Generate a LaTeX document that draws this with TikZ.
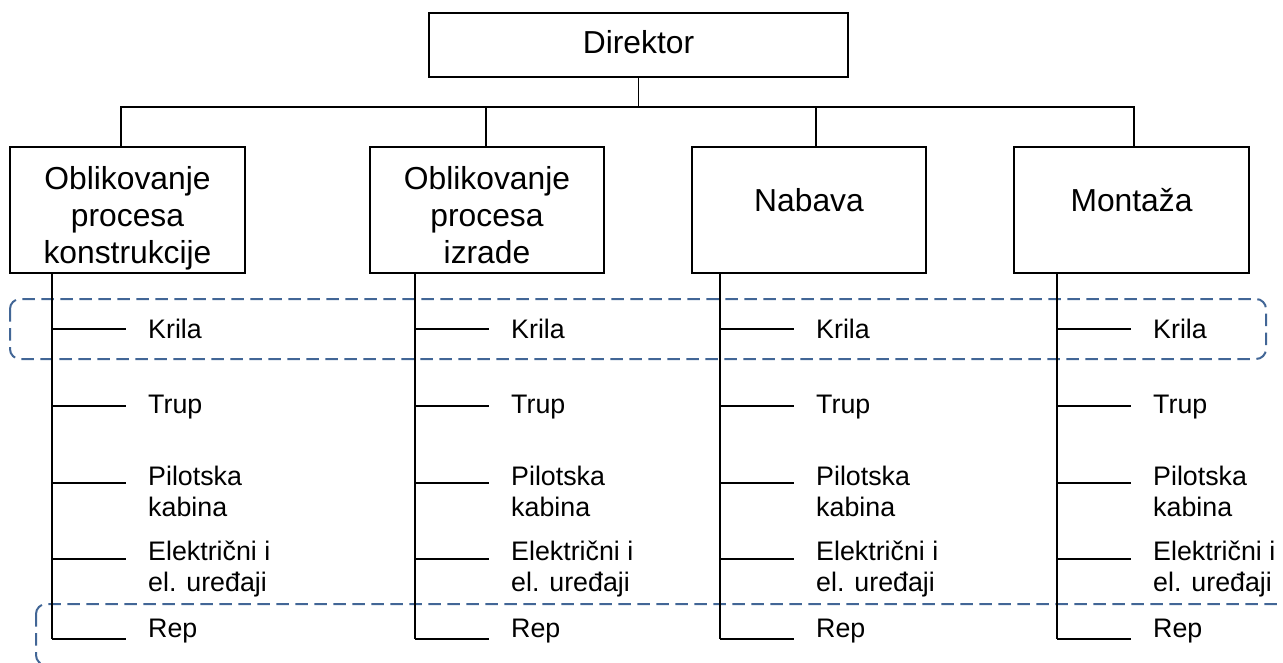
\documentclass[tikz,border=0pt]{standalone}
\usepackage{fontspec}
\setmainfont{Liberation Sans}
\definecolor{dashblue}{RGB}{66,102,150}
\begin{document}
\begin{tikzpicture}[x=1pt,y=-1pt,
  box/.style={draw=black, line width=2.5pt, rectangle, inner sep=0pt, fill=white},
  conn/.style={draw=black, line width=1.8pt},
  group/.style={draw=dashblue, line width=2pt, dash pattern=on 12.5pt off 6.5pt, rounded corners=10pt},
  bigtxt/.style={font=\fontsize{31.8}{37}\selectfont, inner sep=0pt, align=center},
  smalltxt/.style={font=\fontsize{26.8}{31}\selectfont, inner sep=0pt, align=left}]
\useasboundingbox (0,0) rectangle (1283,662);
\clip (0,0) rectangle (1283,662);

% dashed groups
\draw[group] (10,299) rectangle (1266,359);
\draw[group] (36,604) rectangle (1310,665);

% boxes
\node[box, minimum width=419pt, minimum height=64pt] (dir) at (638.5,45) {};
\node[box, minimum width=235pt, minimum height=126pt] (b1) at (127.5,210) {};
\node[box, minimum width=234pt, minimum height=126pt] (b2) at (487,210) {};
\node[box, minimum width=234pt, minimum height=126pt] (b3) at (809,210) {};
\node[box, minimum width=235pt, minimum height=126pt] (b4) at (1131.5,210) {};

% box texts
\node[bigtxt, anchor=base] (tdir) at (638.5,53) {Direktor};
\node[bigtxt, anchor=north] (t1) at (127.5,166) {Oblikovanje\\procesa\\konstrukcije};
\node[bigtxt, anchor=north] (t2) at (487,166) {Oblikovanje\\procesa\\izrade};
\node[bigtxt, anchor=base] (t3) at (809,211) {Nabava};
\node[bigtxt, anchor=base] (t4) at (1131.5,211) {Montaža};

% bus
\coordinate (bus) at (0,107);
\draw[conn] (dir.south) -- (dir.south |- bus);
\draw[conn] ([xshift=-6.5pt]b1.north) -- ([xshift=-6.5pt]b1.north |- bus) -- ([xshift=2.5pt]b4.north |- bus) -- ([xshift=2.5pt]b4.north);
\draw[conn] ([xshift=-1pt]b2.north) -- ([xshift=-1pt]b2.north |- bus);
\draw[conn] ([xshift=7pt]b3.north) -- ([xshift=7pt]b3.north |- bus);

% columns
\foreach \i/\b/\sx in {1/b1/52, 2/b2/415, 3/b3/720, 4/b4/1057} {
  \coordinate (s\i) at (\b.south -| \sx,0);
  \coordinate (e\i) at (\sx,639);
  \draw[conn] (s\i) -- (e\i);
  \node[smalltxt, anchor=base west] (kr\i) at (\sx+96,338) {Krila};
  \node[smalltxt, anchor=base west] (tr\i) at (\sx+96,413) {Trup};
  \node[smalltxt, anchor=north west] (pk\i) at (\sx+96,466) {Pilotska\\kabina};
  \node[smalltxt, anchor=north west] (el\i) at (\sx+96,541) {Električni i\\el. uređaji};
  \node[smalltxt, anchor=base west] (rp\i) at (\sx+96,637) {Rep};
  \foreach \y in {329,406,483,559,639} {
    \draw[conn] (\sx,\y) -- (\sx+74,\y);
  }
}
\end{tikzpicture}
\end{document}
